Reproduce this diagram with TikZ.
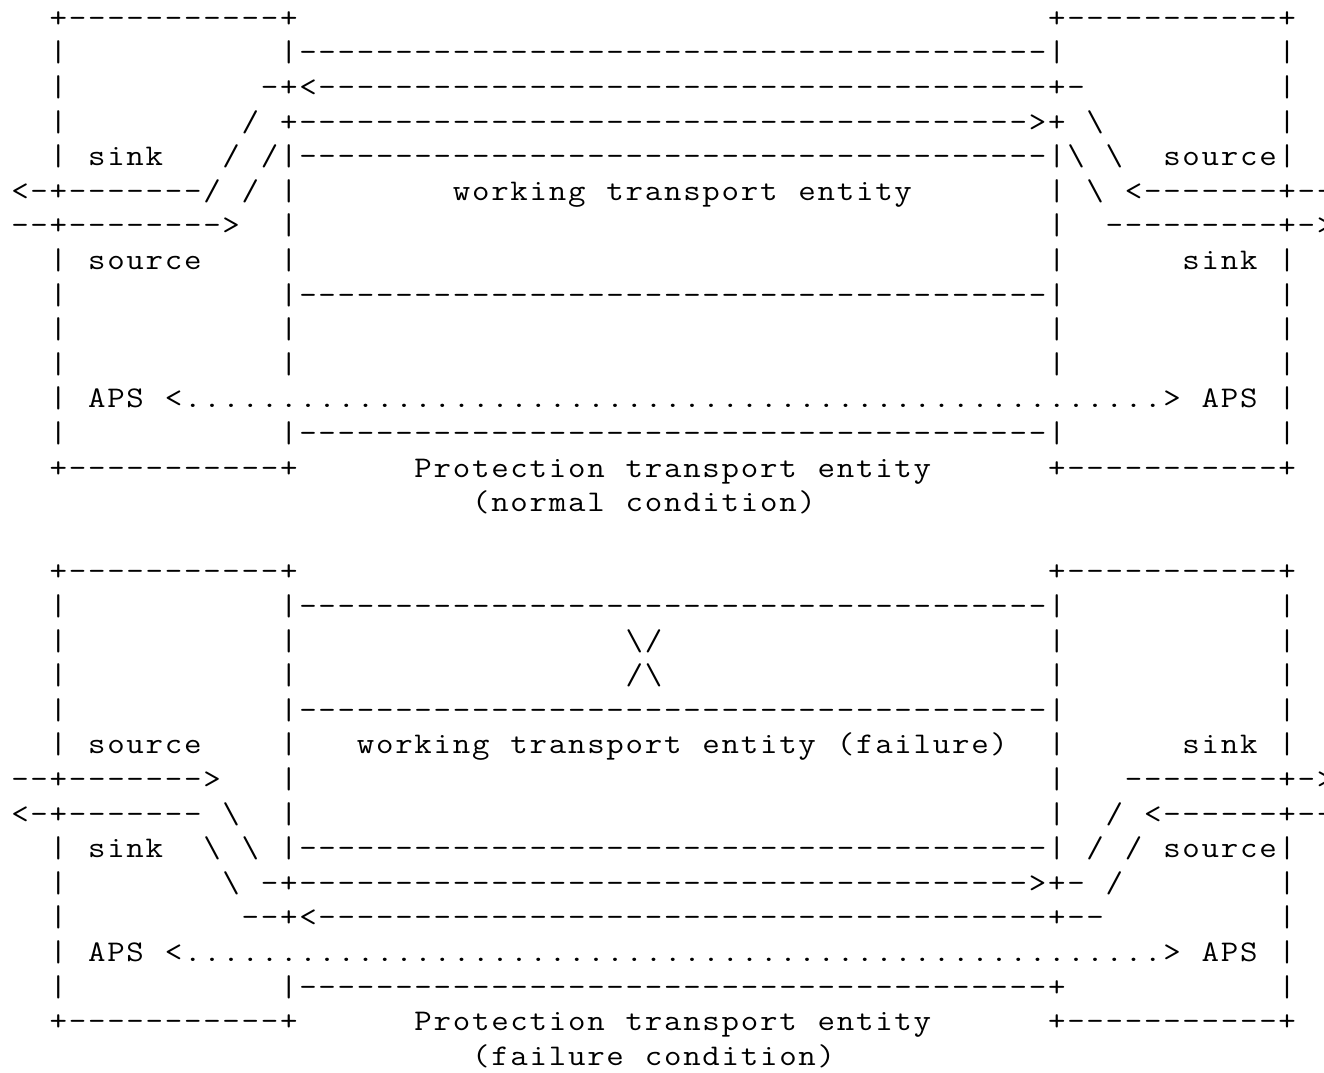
\documentclass[tikz,border=0pt]{standalone}
\newcommand\ascfont{\ttfamily\fontsize{22.5}{24}\selectfont}
\newcommand\ascglyph[1]{\scalebox{1.13}[1]{#1}}
\tikzset{asc/.style={font=\ascfont, inner sep=0pt, anchor=base}}
\newcount\asccol
\def\ascrow{0}
\def\ascend{ASCEND}
% place one character at grid cell (row, col); '*' stands for a blank cell
\newcommand\ascput[1]{\ifx*#1\else
  \node[asc] (c\ascrow-\the\asccol) at ({20+19.2*\the\asccol},{27.3+34.6*\ascrow}) {\ascglyph{#1}};\fi}
\def\ascloop#1{\ifx#1\ascend\else\ascput{#1}\global\advance\asccol by 1 \expandafter\ascloop\fi}
% a run of characters starting at a column
\newcommand\aseg[3]{\def\ascrow{#1}\global\asccol=#2\relax\ascloop#3\ascend}
% one character repeated from column #2 to column #3
\newcommand\arun[4]{\foreach \k in {#2,...,#3}{\node[asc] (c#1-\k) at ({20+19.2*\k},{27.3+34.6*#1}) {\ascglyph{#4}};}}
\newcommand\boxtop[1]{\aseg{#1}{2}{+}\arun{#1}{3}{13}{-}\aseg{#1}{14}{+}\aseg{#1}{54}{+}\arun{#1}{55}{65}{-}\aseg{#1}{66}{+}}
\newcommand\sides[1]{\aseg{#1}{2}{|}\aseg{#1}{66}{|}}
\newcommand\posts[1]{\aseg{#1}{14}{|}\aseg{#1}{54}{|}}
\newcommand\lane[1]{\aseg{#1}{14}{|}\arun{#1}{15}{53}{-}\aseg{#1}{54}{|}}
\begin{document}
\begin{tikzpicture}[x=0.75pt,y=-0.75pt]
\useasboundingbox (0,0) rectangle (1324,1073);
% ---------- normal condition ----------
\boxtop{0}
\sides{1}\lane{1}
\sides{2}\aseg{2}{13}{-+<}\arun{2}{16}{53}{-}\aseg{2}{54}{+-}
\sides{3}\aseg{3}{12}{/*+}\arun{3}{15}{52}{-}\aseg{3}{53}{>+*\textbackslash}
\aseg{4}{2}{|*sink***/*/|}\arun{4}{15}{53}{-}\aseg{4}{54}{|\textbackslash*\textbackslash**source|}
\aseg{5}{0}{<-+}\arun{5}{3}{9}{-}\aseg{5}{10}{/*/*|}\aseg{5}{23}{working*transport*entity}\aseg{5}{54}{|*\textbackslash*<}\arun{5}{59}{65}{-}\aseg{5}{66}{+--}
\aseg{6}{0}{--+}\arun{6}{3}{10}{-}\aseg{6}{11}{>}\posts{6}\arun{6}{57}{65}{-}\aseg{6}{66}{+->}
\aseg{7}{2}{|*source****|}\aseg{7}{54}{|}\aseg{7}{61}{sink*|}
\sides{8}\lane{8}
\sides{9}\posts{9}
\sides{10}\posts{10}
\aseg{11}{2}{|*APS*<}\arun{11}{9}{59}{.}\aseg{11}{60}{>*APS*|}
\sides{12}\lane{12}
\boxtop{13}\aseg{13}{21}{Protection*transport*entity}
\aseg{14}{24}{(normal*condition)}
% ---------- failure condition ----------
\boxtop{16}
\sides{17}\lane{17}
\sides{18}\posts{18}\aseg{18}{32}{\textbackslash/}
\sides{19}\posts{19}\aseg{19}{32}{/\textbackslash}
\sides{20}\lane{20}
\aseg{21}{2}{|*source****|}\aseg{21}{18}{working*transport*entity*(failure)}\aseg{21}{54}{|}\aseg{21}{61}{sink*|}
\aseg{22}{0}{--+}\arun{22}{3}{9}{-}\aseg{22}{10}{>}\posts{22}\arun{22}{58}{65}{-}\aseg{22}{66}{+->}
\aseg{23}{0}{<-+}\arun{23}{3}{9}{-}\aseg{23}{11}{\textbackslash}\posts{23}\aseg{23}{57}{/*<}\arun{23}{60}{65}{-}\aseg{23}{66}{+--}
\aseg{24}{2}{|*sink**\textbackslash*\textbackslash*|}\arun{24}{15}{53}{-}\aseg{24}{54}{|*/*/*source|}
\sides{25}\aseg{25}{11}{\textbackslash*-+}\arun{25}{15}{52}{-}\aseg{25}{53}{>+-*/}
\sides{26}\aseg{26}{12}{--+<}\arun{26}{16}{53}{-}\aseg{26}{54}{+--}
\aseg{27}{2}{|*APS*<}\arun{27}{9}{59}{.}\aseg{27}{60}{>*APS*|}
\sides{28}\aseg{28}{14}{|}\arun{28}{15}{53}{-}\aseg{28}{54}{+}
\boxtop{29}\aseg{29}{21}{Protection*transport*entity}
\aseg{30}{24}{(failure*condition)}
\end{tikzpicture}
\end{document}
